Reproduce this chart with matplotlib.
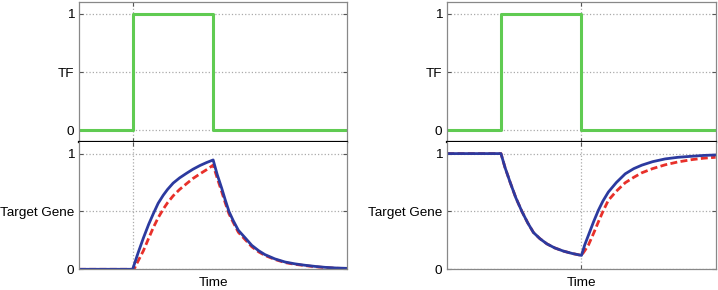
import matplotlib.pyplot as plt
import numpy as np

plt.rcParams['font.family'] = ['Liberation Sans', 'DejaVu Sans']

# TF step input (same in both panels)
tf_time = [0, 2, 2, 5, 5, 10]
tf_level = [0, 0, 1, 1, 0, 0]

# left panel: activation (blue solid, red dashed)
left_blue_t = [0, 2.0, 2.2, 2.4, 2.6, 2.77, 2.95, 3.14, 3.3, 3.51, 3.75, 4.01, 4.25, 4.51, 4.75, 5.0,
               5.15, 5.32, 5.45, 5.59, 5.75, 5.94, 6.2, 6.44, 6.7, 6.93, 7.3, 7.68, 8.05, 8.42,
               8.8, 9.17, 9.6, 10.0]
left_blue_y = [0, 0, 0.14, 0.27, 0.39, 0.48, 0.57, 0.64, 0.69, 0.745, 0.79, 0.83, 0.865, 0.897, 0.922, 0.945,
               0.82, 0.70, 0.60, 0.50, 0.42, 0.337, 0.27, 0.207, 0.16, 0.127, 0.09, 0.063, 0.047, 0.035,
               0.025, 0.017, 0.011, 0.008]
left_red_t = [0, 2.05, 2.2, 2.4, 2.6, 2.77, 2.95, 3.14, 3.3, 3.51, 3.75, 4.01, 4.25, 4.51, 4.75, 5.0,
              5.15, 5.32, 5.45, 5.59, 5.75, 5.94, 6.2, 6.44, 6.7, 6.93, 7.3, 7.68, 8.05, 8.42,
              8.8, 9.17, 9.6, 10.0]
left_red_y = [0, 0, 0.07, 0.16, 0.27, 0.36, 0.445, 0.52, 0.575, 0.635, 0.69, 0.74, 0.785, 0.825, 0.86, 0.9,
              0.79, 0.67, 0.575, 0.48, 0.405, 0.32, 0.255, 0.195, 0.15, 0.12, 0.085, 0.058, 0.043, 0.032,
              0.022, 0.015, 0.009, 0.006]

# right panel: repression (blue solid, red dashed)
right_blue_t = [0, 2.0, 2.15, 2.34, 2.55, 2.78, 3.0, 3.21, 3.45, 3.71, 4.0, 4.33, 4.65, 5.0,
                5.12, 5.26, 5.45, 5.63, 5.8, 6.0, 6.3, 6.63, 6.95, 7.25, 7.65, 8.12, 8.6, 9.12, 9.55, 10.0]
right_blue_y = [1.0, 1.0, 0.88, 0.753, 0.62, 0.50, 0.40, 0.318, 0.265, 0.22, 0.185, 0.157, 0.137, 0.12,
                0.21, 0.295, 0.41, 0.51, 0.59, 0.667, 0.75, 0.825, 0.87, 0.90, 0.93, 0.954, 0.968, 0.977, 0.984, 0.988]
right_red_t = right_blue_t
right_red_y = [1.0, 1.0, 0.88, 0.753, 0.62, 0.50, 0.40, 0.318, 0.265, 0.22, 0.185, 0.157, 0.137, 0.12,
               0.16, 0.21, 0.31, 0.41, 0.50, 0.596, 0.675, 0.748, 0.795, 0.834, 0.87, 0.903, 0.928, 0.948, 0.96, 0.968]

green = '#60cb52'
blue = '#2c3a9f'
red = '#e8302a'
spine_gray = '#888888'


def style_axes(ax, ylim, yticklabels, vline):
    ax.set_xlim(0, 10)
    ax.set_ylim(*ylim)
    ax.set_yticks([0, 0.5, 1])
    ax.set_yticklabels(yticklabels, fontsize=9.7)
    ax.set_xticks([vline])
    ax.set_xticklabels([])
    ax.grid(True, color='#aaaaaa', linestyle=':', linewidth=0.9)
    ax.tick_params(direction='in', length=3, color='#555555',
                   top=True, right=True, labelsize=9.7)
    ax.tick_params(axis='y', pad=3.5)
    ax.tick_params(axis='x', pad=1)
    for s in ax.spines.values():
        s.set_color(spine_gray)
        s.set_linewidth(0.9)


fig = plt.figure(figsize=(7.18, 2.90), dpi=100)

panels = [
    (0.110, left_blue_t, left_blue_y, left_red_t, left_red_y, 2),
    (0.623, right_blue_t, right_blue_y, right_red_t, right_red_y, 5),
]

for x0, bt, by, rt, ry, vline in panels:
    ax_top = fig.add_axes([x0, 0.5103, 0.3737, 0.4827])
    ax_top.plot(tf_time, tf_level, color=green, linewidth=2.2)
    style_axes(ax_top, (-0.1, 1.1), ['0', 'TF', '1'], vline)
    ax_top.spines['bottom'].set_color('black')
    ax_top.spines['bottom'].set_linewidth(1.6)
    ax_top.spines['bottom'].set_zorder(5)

    ax_bot = fig.add_axes([x0, 0.0714, 0.3737, 0.4389])
    ax_bot.plot(rt, ry, color=red, linewidth=2.0, linestyle=(0, (2.5, 1.2)))
    ax_bot.plot(bt, by, color=blue, linewidth=2.0)
    style_axes(ax_bot, (0, 1.1), ['0', 'Target Gene', '1'], vline)
    ax_bot.spines['top'].set_visible(False)
    ax_bot.set_xlabel('Time', fontsize=9.7, labelpad=4.5)

fig.savefig('out.png', dpi=100)
